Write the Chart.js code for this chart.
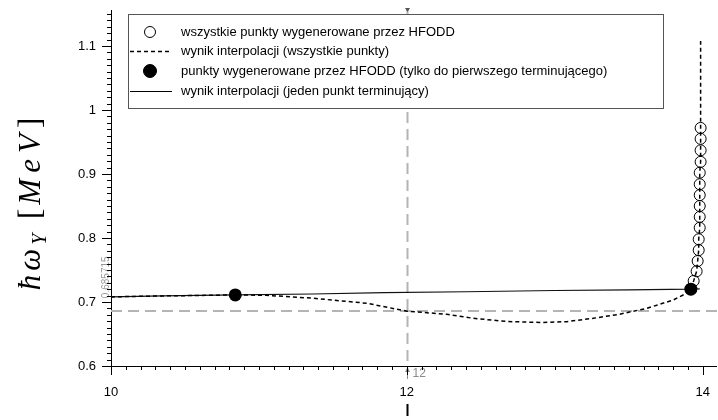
<!DOCTYPE html>
<html>
<head>
<meta charset="utf-8">
<script src="https://cdn.jsdelivr.net/npm/chart.js@4/dist/chart.umd.min.js"></script>
<style>
  html, body { margin: 0; padding: 0; background: #fff; }
  #wrap { width: 718px; height: 420px; }
</style>
</head>
<body>
<div id="wrap"><canvas id="c" width="718" height="420"></canvas></div>
<script>
// ---- data ----
// every HFODD point (open circles)
const allPointsX = [13.920, 13.939, 13.959, 13.966, 13.973, 13.973, 13.980, 13.980, 13.980, 13.980, 13.980, 13.980, 13.986, 13.986, 13.986, 13.986];
const allPointsY = [0.720, 0.733, 0.748, 0.764, 0.781, 0.798, 0.816, 0.833, 0.850, 0.867, 0.884, 0.902, 0.919, 0.937, 0.955, 0.972];

// interpolation through every point (dashed)
const interpAllX = [10.00, 10.35, 10.84, 11.05, 11.36, 11.73, 12.00, 12.27, 12.45, 12.68, 12.90, 13.08, 13.26, 13.44, 13.62, 13.80, 13.91, 13.920, 13.939, 13.959, 13.966, 13.973, 13.973, 13.980, 13.980, 13.980, 13.980, 13.980, 13.980, 13.986, 13.986, 13.986, 13.986, 13.986];
const interpAllY = [0.708, 0.7095, 0.711, 0.7105, 0.706, 0.698, 0.6857, 0.6808, 0.6745, 0.6695, 0.668, 0.6693, 0.6745, 0.681, 0.690, 0.703, 0.716, 0.720, 0.733, 0.748, 0.764, 0.781, 0.798, 0.816, 0.833, 0.850, 0.867, 0.884, 0.902, 0.919, 0.937, 0.955, 0.972, 1.108];

// HFODD points up to the first terminating one (filled)
const firstPointsX = [10.84, 13.92];
const firstPointsY = [0.711, 0.720];

// interpolation with a single terminating point (solid)
const interpOneX = [10.00, 10.35, 10.84, 11.36, 11.85, 12.40, 13.00, 13.50, 13.92, 13.98];
const interpOneY = [0.708, 0.7095, 0.711, 0.7125, 0.7145, 0.716, 0.718, 0.719, 0.720, 0.7205];

// crosshair read-out
const crossX = 12;
const crossY = 0.685715;

// tick labels
const xTickValues = [10, 12, 14];
const xTickLabels = ['10', '12', '14'];
const yTickValues = [0.6, 0.7, 0.8, 0.9, 1.0, 1.1];
const yTickLabels = ['0.6', '0.7', '0.8', '0.9', '1', '1.1'];

const seriesNames = [
  'wszystkie punkty wygenerowane przez HFODD',
  'wynik interpolacji (wszystkie punkty)',
  'punkty wygenerowane przez HFODD (tylko do pierwszego terminującego)',
  'wynik interpolacji (jeden punkt terminujący)'
];

const pts = (xs, ys) => xs.map((x, i) => ({ x: x, y: ys[i] }));
const FONT = '"Liberation Sans", Arial, sans-serif';
const SERIF = '"Liberation Serif", "Times New Roman", serif';

// minor/major tick marks drawn outward from both axes
const tickMarks = {
  id: 'tickMarks',
  afterDraw(chart) {
    const { ctx, chartArea: a, scales: { x, y } } = chart;
    ctx.save();
    ctx.strokeStyle = '#000';
    ctx.lineWidth = 1;
    ctx.beginPath();
    for (let i = 60; i <= 115; i++) {
      const v = i / 100;
      const py = Math.round(y.getPixelForValue(v)) + 0.5;
      const len = (i % 10 === 0) ? 9 : 4;
      ctx.moveTo(a.left, py); ctx.lineTo(a.left - len, py);
    }
    for (let i = 100; i <= 140; i++) {
      const v = i / 10;
      const px = Math.round(x.getPixelForValue(v)) + 0.5;
      const len = (i % 20 === 0) ? 9 : 4;
      ctx.moveTo(px, a.bottom); ctx.lineTo(px, a.bottom + len);
    }
    ctx.stroke();
    ctx.restore();
  }
};

// grey crosshair at the read-out position
const crosshair = {
  id: 'crosshair',
  beforeDatasetsDraw(chart) {
    const { ctx, chartArea: a, scales: { x, y } } = chart;
    const cx = Math.round(x.getPixelForValue(crossX)) + 0.5;
    const cy = Math.round(y.getPixelForValue(crossY));
    ctx.save();
    ctx.strokeStyle = '#b4b4b4';
    ctx.lineWidth = 2;
    ctx.setLineDash([11, 6]);
    ctx.beginPath();
    ctx.moveTo(cx, a.top); ctx.lineTo(cx, a.bottom);
    ctx.moveTo(a.left, cy); ctx.lineTo(chart.width, cy);
    ctx.stroke();
    ctx.setLineDash([]);
    ctx.restore();
  },
  afterDraw(chart) {
    const { ctx, chartArea: a, scales: { x, y } } = chart;
    const cx = Math.round(x.getPixelForValue(crossX)) + 0.5;
    const cy = y.getPixelForValue(crossY);
    ctx.save();
    // value text along the y axis
    ctx.fillStyle = '#9a9a9a';
    ctx.font = '10px ' + FONT;
    ctx.translate(a.left - 5, cy - 13);
    ctx.rotate(-Math.PI / 2);
    ctx.textAlign = 'left';
    ctx.textBaseline = 'middle';
    ctx.fillText(String(crossY), 0, 0);
    ctx.restore();

    ctx.save();
    // arrow and value under the x axis
    ctx.strokeStyle = '#8a8a8a';
    ctx.fillStyle = '#8a8a8a';
    ctx.lineWidth = 1;
    ctx.beginPath();
    ctx.moveTo(cx, a.bottom + 13); ctx.lineTo(cx, a.bottom + 2);
    ctx.stroke();
    ctx.beginPath();
    ctx.moveTo(cx, a.bottom + 1); ctx.lineTo(cx - 2.5, a.bottom + 6); ctx.lineTo(cx + 2.5, a.bottom + 6);
    ctx.closePath(); ctx.fill();
    ctx.font = '12px ' + FONT;
    ctx.textAlign = 'left';
    ctx.textBaseline = 'middle';
    ctx.fillText(String(crossX), cx + 5, a.bottom + 8);
    // marker at the top
    ctx.fillStyle = '#555';
    ctx.beginPath();
    ctx.moveTo(cx - 2.5, a.top - 2); ctx.lineTo(cx + 2.5, a.top - 2); ctx.lineTo(cx, a.top + 2);
    ctx.closePath(); ctx.fill();
    // cursor bar below the labels
    ctx.fillStyle = '#000';
    ctx.fillRect(cx - 1, 404, 2, 12);
    ctx.restore();
  }
};

// rotated axis title: ħω_Y [MeV]
const yTitle = {
  id: 'yTitle',
  afterDraw(chart) {
    const ctx = chart.ctx;
    const parts = [
      { t: 'ħω', f: 'italic 31px ' + SERIF, dy: 0, ls: 4 },
      { t: 'Y', f: 'italic 20px ' + SERIF, dy: 6, ls: 3 },
      { t: ' [', f: '31px ' + SERIF, dy: 0, ls: 4 },
      { t: 'MeV', f: 'italic 31px ' + SERIF, dy: 0, ls: 6 },
      { t: ']', f: '31px ' + SERIF, dy: 0, ls: 0 }
    ];
    ctx.save();
    let total = 0;
    parts.forEach(p => {
      ctx.font = p.f;
      p.w = ctx.measureText(p.t).width + p.ls * p.t.length;
      total += p.w;
    });
    ctx.translate(40, 204);
    ctx.rotate(-Math.PI / 2);
    ctx.fillStyle = '#000';
    ctx.textBaseline = 'alphabetic';
    ctx.textAlign = 'left';
    let u = -total / 2;
    parts.forEach(p => {
      ctx.font = p.f;
      let cu = u;
      for (const ch of p.t) {
        ctx.fillText(ch, cu, p.dy);
        cu += ctx.measureText(ch).width + p.ls;
      }
      u += p.w;
    });
    ctx.restore();
  }
};

// boxed legend in the upper part of the plot
const boxLegend = {
  id: 'boxLegend',
  afterDraw(chart) {
    const ctx = chart.ctx;
    const bx = 128.5, by = 14.5, bw = 535, bh = 94;
    ctx.save();
    ctx.fillStyle = '#fff';
    ctx.fillRect(bx, by, bw, bh);
    ctx.strokeStyle = '#555';
    ctx.lineWidth = 1;
    ctx.strokeRect(bx, by, bw, bh);
    const rows = [32, 51, 71, 91];
    const ds = chart.data.datasets;
    ctx.font = '13px ' + FONT;
    ctx.textBaseline = 'middle';
    ctx.textAlign = 'left';
    ds.forEach((d, i) => {
      const ry = rows[i];
      ctx.strokeStyle = '#000';
      if (d.showLine) {
        ctx.lineWidth = d.borderWidth;
        ctx.setLineDash(d.borderDash || []);
        ctx.beginPath();
        ctx.moveTo(130, ry + 0.5); ctx.lineTo(172, ry + 0.5);
        ctx.stroke();
        ctx.setLineDash([]);
      } else {
        ctx.lineWidth = 1;
        ctx.beginPath();
        ctx.arc(150, ry, d.pointRadius, 0, Math.PI * 2);
        if (d.pointBackgroundColor === '#000') { ctx.fillStyle = '#000'; ctx.fill(); }
        ctx.stroke();
      }
      ctx.fillStyle = '#000';
      ctx.fillText(d.label, 181, ry);
    });
    ctx.restore();
  }
};

new Chart(document.getElementById('c'), {
  type: 'scatter',
  data: {
    datasets: [
      {
        label: seriesNames[0], data: pts(allPointsX, allPointsY), showLine: false,
        pointRadius: 5.5, pointBorderWidth: 1, pointBorderColor: '#000',
        pointBackgroundColor: 'rgba(255,255,255,0)', order: 3
      },
      {
        label: seriesNames[1], data: pts(interpAllX, interpAllY), showLine: true,
        borderColor: '#000', borderWidth: 1.5, borderDash: [4, 3], pointRadius: 0, tension: 0, order: 1
      },
      {
        label: seriesNames[2], data: pts(firstPointsX, firstPointsY), showLine: false,
        pointRadius: 6.5, pointBorderWidth: 0, pointBorderColor: '#000',
        pointBackgroundColor: '#000', order: 0
      },
      {
        label: seriesNames[3], data: pts(interpOneX, interpOneY), showLine: true,
        borderColor: '#111', borderWidth: 1.2, pointRadius: 0, tension: 0, order: 2
      }
    ]
  },
  options: {
    responsive: false,
    animation: false,
    devicePixelRatio: 1,
    layout: { autoPadding: false, padding: { top: 10, right: 2, left: 0, bottom: 0 } },
    plugins: { legend: { display: false }, tooltip: { enabled: false } },
    scales: {
      x: {
        type: 'linear', min: 10, max: 14.09,
        grid: { display: false, drawTicks: false },
        border: { display: true, color: '#000', width: 1 },
        afterBuildTicks: s => { s.ticks = xTickValues.map(v => ({ value: v })); },
        afterFit: s => { s.height = 54; s.paddingLeft = 0; s.paddingRight = 0; },
        ticks: {
          includeBounds: false, padding: 19, color: '#000',
          font: { family: FONT, size: 13 },
          callback: (v) => xTickLabels[xTickValues.indexOf(v)] ?? ''
        }
      },
      y: {
        type: 'linear', min: 0.6, max: 1.15625,
        grid: { display: false, drawTicks: false },
        border: { display: true, color: '#000', width: 1 },
        afterBuildTicks: s => { s.ticks = yTickValues.map(v => ({ value: v })); },
        afterFit: s => { s.width = 111; s.paddingTop = 0; s.paddingBottom = 0; },
        ticks: {
          includeBounds: false, padding: 15, color: '#000',
          font: { family: FONT, size: 13 },
          callback: (v) => {
            const i = yTickValues.findIndex(t => Math.abs(t - v) < 1e-9);
            return i >= 0 ? yTickLabels[i] : '';
          }
        }
      }
    }
  },
  plugins: [crosshair, tickMarks, yTitle, boxLegend]
});
</script>
</body>
</html>
